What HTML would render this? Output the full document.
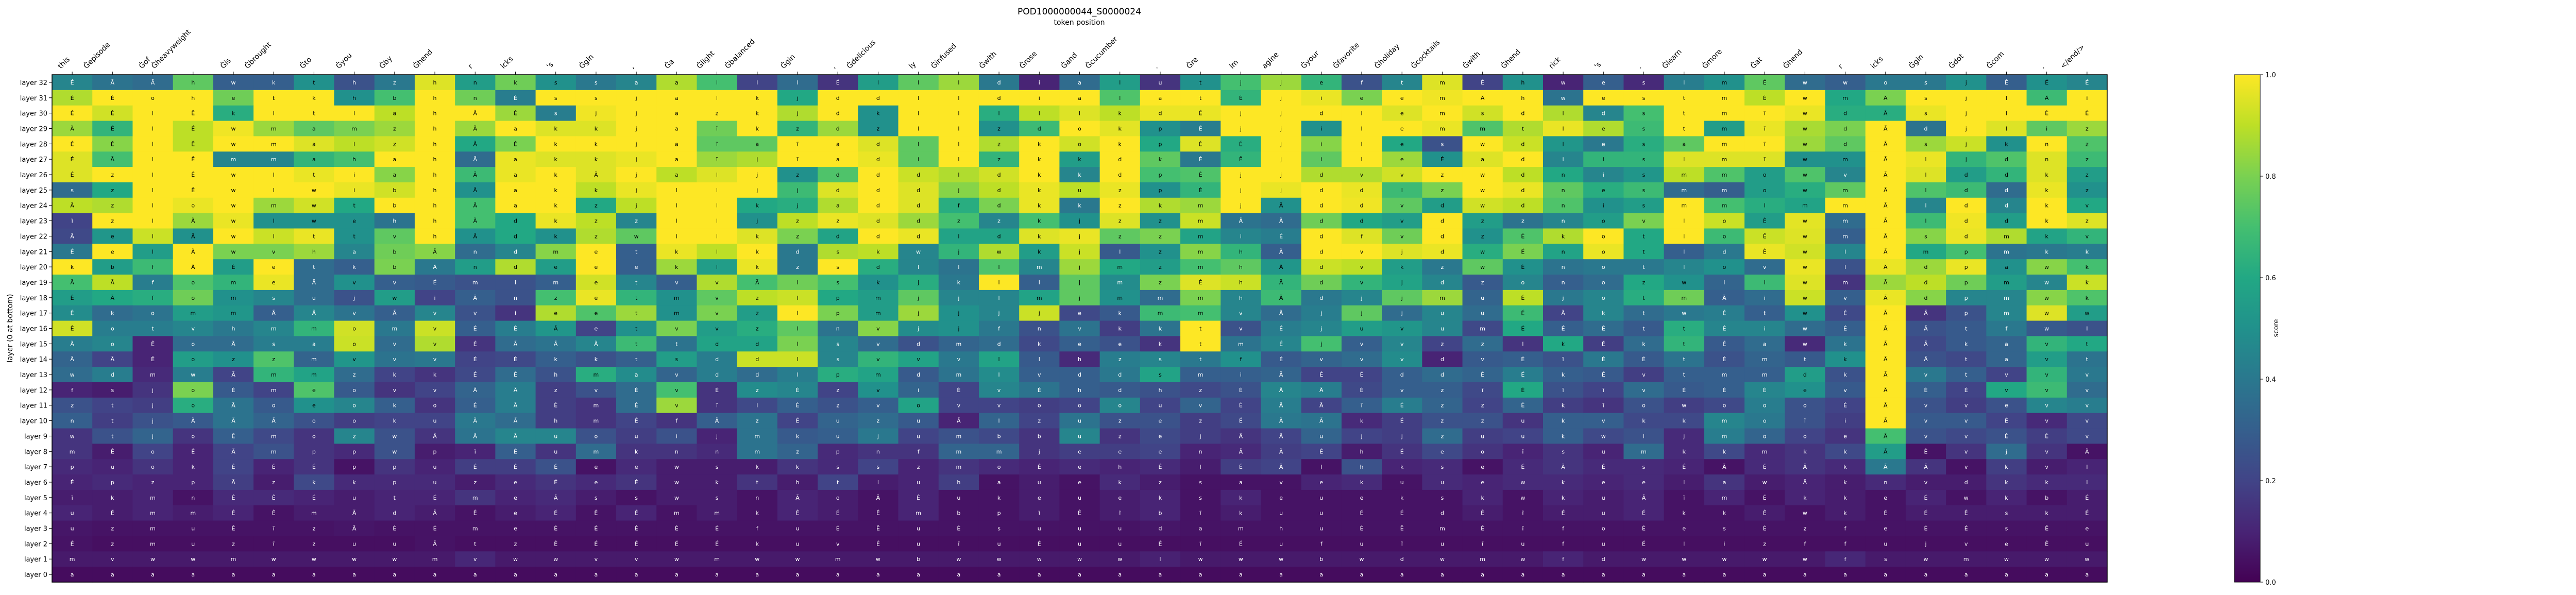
<!DOCTYPE html>
<html><head><meta charset="utf-8"><title>POD1000000044_S0000024</title>
<style>
html,body{margin:0;padding:0;background:#fff;}
svg{display:block;font-family:"DejaVu Sans","Liberation Sans",sans-serif;}
</style></head>
<body>
<svg id="chart" width="5100" height="1155" viewBox="0 0 5100 1155" xmlns="http://www.w3.org/2000/svg">
<defs>
<linearGradient id="vir" x1="0" y1="1" x2="0" y2="0">
<stop offset="0" stop-color="#440154"/><stop offset="0.1" stop-color="#482475"/><stop offset="0.2" stop-color="#414487"/><stop offset="0.3" stop-color="#355f8d"/><stop offset="0.4" stop-color="#2a788e"/><stop offset="0.5" stop-color="#21918c"/><stop offset="0.6" stop-color="#22a884"/><stop offset="0.7" stop-color="#44bf70"/><stop offset="0.8" stop-color="#7ad151"/><stop offset="0.9" stop-color="#bddf26"/><stop offset="1" stop-color="#fde725"/>
</linearGradient>
</defs>
<text x="2095" y="28" font-size="17" text-anchor="middle">POD1000000044_S0000024</text>
<text x="2095" y="48" font-size="14" text-anchor="middle">token position</text>
<text transform="translate(24,637) rotate(-90)" font-size="14" text-anchor="middle">layer (0 at bottom)</text>
<g id="cells"></g>
<g id="xticks"></g>
<g id="yticks"></g>
<rect x="101" y="145" width="3989" height="985" fill="none" stroke="#000" stroke-width="1.5"/>
<rect x="4337" y="145" width="50" height="985" fill="url(#vir)" stroke="#000" stroke-width="1"/>
<g id="cbticks"></g>
<text transform="translate(4422,637) rotate(-90)" font-size="13" text-anchor="middle">score</text>
</svg>
<script>
const tokens = ["this","Ġepisode","Ġof","Ġheavyweight","Ġis","Ġbrought","Ġto","Ġyou","Ġby","Ġhend","r","icks","'s","Ġgin",",","Ġa","Ġlight","Ġbalanced","Ġgin",",","Ġdelicious","ly","Ġinfused","Ġwith","Ġrose","Ġand","Ġcucumber",".","Ġre","im","agine","Ġyour","Ġfavorite","Ġholiday","Ġcocktails","Ġwith","Ġhend","rick","'s",".","Ġlearn","Ġmore","Ġat","Ġhend","r","icks","Ġgin","Ġdot","Ġcom",".","</end/>"];
const layerLabels = ["layer 32","layer 31","layer 30","layer 29","layer 28","layer 27","layer 26","layer 25","layer 24","layer 23","layer 22","layer 21","layer 20","layer 19","layer 18","layer 17","layer 16","layer 15","layer 14","layer 13","layer 12","layer 11","layer 10","layer 9","layer 8","layer 7","layer 6","layer 5","layer 4","layer 3","layer 2","layer 1","layer 0"];
const colorbarTicks = [0.0,0.2,0.4,0.6,0.8,1.0];
// scores, top row = layer 32 ... bottom row = layer 0
const scores = [
[0.45,0.38,0.35,0.75,0.3,0.3,0.5,0.25,0.4,0.95,0.55,0.78,0.5,0.4,0.45,0.88,0.7, 0.2,0.35,0.15,0.55,0.75,0.85,0.4,0.1,0.35,0.55,0.15,0.5,0.7,0.85,0.65,0.25,0.45, 0.95,0.2,0.5,0.1,0.3,0.12,0.42,0.5,0.75,0.35,0.3,0.4,0.4,0.5,0.3,0.5,0.45],
[0.88,1.0,1.0,1.0,0.78,1.0,1.0,0.5,0.7,1.0,0.78,0.42,1.0,1.0,1.0,1.0,1.0, 1.0,0.6,1.0,1.0,1.0,1.0,1.0,1.0,1.0,0.72,1.0,1.0,0.65,1.0,0.97,0.8,1.0, 0.98,1.0,1.0,0.38,1.0,1.0,1.0,1.0,0.9,1.0,0.6,0.8,1.0,1.0,1.0,0.68,1.0],
[1.0,0.93,1.0,1.0,0.62,1.0,1.0,1.0,0.9,1.0,1.0,0.85,0.42,0.98,1.0,1.0,1.0, 1.0,0.88,1.0,0.5,1.0,1.0,0.62,0.9,0.95,0.9,0.97,0.97,1.0,1.0,1.0,1.0,0.95, 1.0,0.93,1.0,0.88,0.45,0.7,1.0,1.0,1.0,0.97,0.62,0.62,0.97,1.0,1.0,1.0,1.0],
[0.85,0.65,1.0,0.9,0.98,0.85,0.75,0.8,0.85,1.0,0.85,1.0,0.95,0.95,1.0,1.0,0.78, 1.0,0.65,0.85,0.5,1.0,1.0,0.5,0.68,1.0,0.96,0.5,0.42,1.0,1.0,0.5,1.0,1.0, 0.97,0.72,0.88,0.97,0.88,0.68,1.0,0.55,0.97,0.87,0.8,1.0,0.38,1.0,0.95,0.75,0.85],
[1.0,0.82,1.0,0.9,1.0,1.0,0.95,0.9,0.93,1.0,0.6,0.8,1.0,1.0,1.0,1.0,0.75, 0.75,1.0,1.0,0.95,0.75,1.0,0.88,1.0,0.93,1.0,0.6,0.95,0.62,1.0,0.82,1.0,0.6, 0.25,1.0,0.92,0.52,0.4,0.62,0.75,1.0,1.0,0.85,0.75,1.0,0.85,0.92,0.5,1.0,0.72],
[0.95,0.7,1.0,1.0,0.45,0.45,0.65,0.7,1.0,1.0,0.35,0.97,0.95,0.95,0.97,1.0,0.85, 0.88,1.0,1.0,0.97,0.75,1.0,0.65,1.0,0.55,1.0,0.75,0.4,0.65,1.0,0.75,1.0,0.85, 0.5,0.95,1.0,0.45,0.65,0.65,0.95,0.95,0.95,0.5,0.5,1.0,0.97,0.65,0.72,0.95,0.68],
[0.95,1.0,1.0,1.0,1.0,1.0,0.97,1.0,0.82,1.0,0.68,0.97,1.0,0.95,1.0,0.9,0.95, 1.0,0.5,0.72,1.0,0.92,0.88,0.93,1.0,0.45,1.0,0.7,0.72,1.0,1.0,0.88,0.88,0.93, 1.0,1.0,0.9,0.6,0.45,0.52,0.9,0.72,0.55,0.72,0.45,1.0,0.95,0.55,0.65,0.95,0.55],
[0.35,0.6,1.0,1.0,1.0,1.0,1.0,0.97,0.93,1.0,0.5,1.0,1.0,0.9,0.97,1.0,1.0, 1.0,0.68,0.95,1.0,0.95,0.82,0.9,0.97,0.9,0.97,0.5,0.65,1.0,0.97,1.0,0.97,0.68, 0.8,1.0,0.97,0.75,0.62,0.68,0.35,0.3,0.55,0.62,0.75,1.0,0.72,0.68,0.35,0.97,0.5],
[0.9,0.88,1.0,0.97,1.0,0.85,0.93,0.6,1.0,1.0,0.7,1.0,1.0,0.6,0.9,1.0,1.0, 0.6,0.62,0.88,1.0,0.95,0.62,0.8,0.97,0.4,1.0,0.88,0.85,1.0,0.5,1.0,0.98,0.75, 0.55,0.93,0.9,0.72,0.5,0.55,1.0,0.7,0.62,0.58,1.0,1.0,0.45,1.0,0.45,1.0,0.6],
[0.2,1.0,1.0,0.85,0.97,0.5,0.5,0.5,0.38,1.0,0.7,0.6,0.97,0.9,0.45,1.0,1.0, 0.5,0.9,0.97,0.95,0.85,0.7,0.45,0.7,0.5,0.95,0.5,0.92,0.38,0.35,0.78,0.6,0.55, 1.0,0.55,0.38,0.45,0.55,0.8,1.0,0.92,0.55,0.96,0.35,1.0,0.68,0.98,0.55,1.0,0.95],
[0.22,0.52,0.92,0.5,1.0,0.92,0.97,0.5,0.75,1.0,0.5,0.6,0.5,0.88,0.75,1.0,1.0, 0.95,0.8,0.58,1.0,0.97,0.58,0.58,0.95,0.97,0.75,0.8,0.58,0.45,0.42,1.0,0.95,0.78, 1.0,0.5,0.72,0.88,1.0,0.6,1.0,0.68,0.92,0.95,0.3,1.0,0.82,0.97,0.88,0.58,0.65],
[0.4,1.0,0.55,1.0,0.8,0.8,0.85,0.45,0.78,0.82,0.35,0.45,0.82,1.0,0.3,0.97,0.9, 1.0,0.4,0.88,0.9,0.45,0.65,0.88,0.55,0.92,0.28,0.5,0.82,0.65,0.3,1.0,1.0,0.95, 0.97,0.62,0.8,0.58,0.97,0.6,0.3,0.4,0.97,0.93,0.45,1.0,0.6,0.7,0.38,0.4,0.42],
[1.0,0.55,0.68,1.0,0.55,1.0,0.35,0.3,0.8,0.4,0.55,0.88,0.55,1.0,0.3,0.85,0.55, 0.97,0.4,1.0,0.62,0.45,0.38,0.72,0.45,0.85,0.6,0.55,0.7,0.75,0.52,0.92,0.9,0.55, 0.4,0.75,0.5,0.38,0.4,0.4,0.45,0.5,0.35,0.97,0.25,0.97,0.85,0.97,0.5,0.82,0.7],
[0.7,0.9,0.42,0.72,0.65,0.97,0.35,0.5,0.3,0.28,0.25,0.25,0.3,0.93,0.45,0.3,0.88, 0.7,0.78,0.7,0.5,0.62,0.4,1.0,0.3,0.75,0.48,0.8,0.95,0.92,0.65,0.78,0.65,0.58, 0.45,0.28,0.45,0.3,0.35,0.6,0.5,0.32,0.68,0.95,0.15,0.85,0.9,0.78,0.55,0.45,0.92],
[0.55,0.6,0.62,0.78,0.5,0.45,0.35,0.25,0.55,0.2,0.3,0.25,0.7,0.97,0.65,0.5,0.75, 0.9,0.92,0.6,0.55,0.75,0.45,0.45,0.58,0.75,0.5,0.35,0.8,0.45,0.68,0.4,0.45,0.75, 0.85,0.32,0.9,0.4,0.45,0.62,0.78,0.3,0.35,0.92,0.3,0.97,0.82,0.45,0.45,0.82,0.72],
[0.48,0.35,0.38,0.55,0.52,0.3,0.45,0.38,0.3,0.45,0.25,0.15,0.88,0.72,0.85,0.5,0.8, 0.55,1.0,0.8,0.55,0.85,0.5,0.45,0.92,0.22,0.28,0.68,0.7,0.45,0.35,0.42,0.75,0.35, 0.45,0.35,0.68,0.2,0.45,0.35,0.4,0.42,0.3,0.5,0.22,1.0,0.15,0.25,0.45,0.95,0.55],
[0.93,0.42,0.42,0.45,0.4,0.45,0.65,0.93,0.4,0.92,0.3,0.42,0.52,0.2,0.5,0.8,0.55, 0.62,0.75,0.38,0.82,0.48,0.5,0.4,0.25,0.38,0.18,0.38,1.0,0.25,0.42,0.45,0.55,0.52, 0.45,0.22,0.6,0.3,0.35,0.28,0.62,0.45,0.45,0.35,0.3,1.0,0.25,0.28,0.4,0.28,0.25],
[0.42,0.45,0.1,0.35,0.35,0.42,0.42,0.92,0.35,0.88,0.15,0.35,0.38,0.45,0.68,0.38,0.58, 0.58,0.8,0.45,0.35,0.25,0.32,0.35,0.22,0.3,0.25,0.15,1.0,0.38,0.45,0.7,0.3,0.45, 0.2,0.35,0.15,0.6,0.18,0.35,0.65,0.28,0.35,0.12,0.38,1.0,0.22,0.28,0.32,0.65,0.6],
[0.32,0.2,0.1,0.55,0.5,0.72,0.32,0.52,0.38,0.4,0.2,0.22,0.3,0.25,0.3,0.55,0.42, 0.92,0.92,0.45,0.65,0.58,0.4,0.58,0.28,0.12,0.42,0.45,0.4,0.5,0.28,0.32,0.35,0.48, 0.1,0.28,0.3,0.25,0.4,0.28,0.38,0.25,0.32,0.28,0.5,1.0,0.25,0.22,0.32,0.55,0.38],
[0.35,0.42,0.12,0.42,0.2,0.65,0.58,0.35,0.2,0.15,0.22,0.35,0.25,0.62,0.48,0.32,0.42, 0.35,0.42,0.62,0.58,0.28,0.38,0.48,0.3,0.3,0.4,0.58,0.3,0.3,0.32,0.2,0.2,0.3, 0.35,0.32,0.42,0.3,0.28,0.18,0.3,0.3,0.3,0.55,0.25,1.0,0.4,0.3,0.2,0.65,0.4],
[0.1,0.08,0.15,0.8,0.28,0.2,0.72,0.28,0.15,0.2,0.32,0.42,0.18,0.25,0.35,0.7,0.15, 0.48,0.45,0.2,0.5,0.32,0.2,0.45,0.38,0.3,0.28,0.25,0.22,0.25,0.45,0.42,0.22,0.3, 0.3,0.22,0.6,0.25,0.2,0.35,0.28,0.3,0.45,0.5,0.28,1.0,0.3,0.2,0.6,0.68,0.35],
[0.25,0.2,0.18,0.62,0.38,0.28,0.5,0.45,0.3,0.15,0.3,0.42,0.18,0.15,0.35,0.85,0.15, 0.22,0.3,0.25,0.3,0.58,0.2,0.2,0.18,0.2,0.45,0.2,0.32,0.2,0.42,0.2,0.3,0.42, 0.32,0.2,0.32,0.18,0.15,0.25,0.18,0.22,0.42,0.25,0.2,1.0,0.25,0.18,0.25,0.45,0.42],
[0.3,0.18,0.25,0.28,0.38,0.32,0.25,0.18,0.2,0.2,0.4,0.35,0.18,0.15,0.2,0.15,0.3, 0.38,0.2,0.32,0.35,0.28,0.1,0.32,0.2,0.38,0.25,0.25,0.18,0.22,0.4,0.38,0.12,0.18, 0.25,0.25,0.15,0.3,0.3,0.22,0.22,0.45,0.4,0.25,0.18,1.0,0.28,0.28,0.2,0.12,0.22],
[0.15,0.25,0.32,0.15,0.3,0.22,0.15,0.45,0.25,0.15,0.38,0.45,0.45,0.25,0.18,0.25,0.1, 0.38,0.28,0.3,0.4,0.2,0.25,0.22,0.15,0.45,0.15,0.22,0.18,0.15,0.2,0.32,0.2,0.18, 0.35,0.18,0.2,0.3,0.22,0.25,0.12,0.42,0.32,0.2,0.15,0.7,0.25,0.22,0.25,0.18,0.22],
[0.15,0.08,0.2,0.1,0.2,0.25,0.15,0.12,0.25,0.08,0.1,0.3,0.15,0.35,0.15,0.15,0.12, 0.38,0.32,0.12,0.15,0.15,0.32,0.32,0.15,0.18,0.18,0.2,0.1,0.12,0.18,0.2,0.08,0.15, 0.22,0.15,0.1,0.15,0.1,0.35,0.12,0.22,0.12,0.15,0.22,0.55,0.05,0.15,0.35,0.15,0.05],
[0.12,0.1,0.15,0.1,0.2,0.1,0.15,0.05,0.15,0.1,0.18,0.18,0.25,0.05,0.12,0.08,0.08, 0.08,0.15,0.12,0.2,0.1,0.15,0.12,0.1,0.12,0.1,0.12,0.08,0.18,0.2,0.05,0.25,0.1, 0.12,0.05,0.12,0.15,0.12,0.12,0.1,0.05,0.12,0.15,0.12,0.4,0.15,0.05,0.18,0.08,0.1],
[0.1,0.12,0.1,0.1,0.18,0.08,0.22,0.12,0.12,0.12,0.08,0.12,0.15,0.12,0.15,0.08,0.08, 0.15,0.08,0.2,0.08,0.1,0.18,0.05,0.08,0.05,0.12,0.08,0.05,0.05,0.05,0.1,0.12,0.05, 0.12,0.1,0.12,0.12,0.1,0.12,0.08,0.15,0.08,0.1,0.08,0.12,0.08,0.08,0.15,0.12,0.12],
[0.08,0.08,0.1,0.05,0.12,0.12,0.1,0.08,0.1,0.1,0.15,0.1,0.12,0.08,0.05,0.08,0.08, 0.05,0.1,0.08,0.05,0.1,0.05,0.05,0.08,0.05,0.08,0.1,0.05,0.1,0.05,0.05,0.05,0.05, 0.05,0.1,0.05,0.1,0.08,0.1,0.05,0.1,0.05,0.1,0.08,0.05,0.1,0.05,0.1,0.05,0.08],
[0.1,0.08,0.1,0.08,0.1,0.05,0.08,0.08,0.1,0.08,0.05,0.08,0.1,0.05,0.1,0.05,0.08, 0.05,0.1,0.08,0.05,0.1,0.05,0.05,0.08,0.05,0.08,0.1,0.05,0.08,0.05,0.05,0.05,0.05, 0.05,0.08,0.05,0.08,0.08,0.1,0.05,0.05,0.08,0.05,0.08,0.05,0.08,0.08,0.08,0.08,0.08],
[0.06,0.05,0.05,0.05,0.05,0.05,0.05,0.06,0.05,0.05,0.05,0.05,0.05,0.05,0.05,0.05,0.05, 0.05,0.05,0.05,0.05,0.05,0.05,0.05,0.05,0.05,0.05,0.06,0.05,0.05,0.05,0.05,0.05,0.05, 0.05,0.05,0.05,0.05,0.05,0.05,0.05,0.05,0.05,0.05,0.05,0.05,0.05,0.05,0.05,0.05,0.05],
[0.05,0.04,0.04,0.04,0.04,0.04,0.04,0.04,0.04,0.05,0.04,0.04,0.04,0.04,0.04,0.04,0.04, 0.04,0.04,0.04,0.04,0.04,0.04,0.04,0.04,0.04,0.04,0.04,0.04,0.04,0.04,0.04,0.04,0.04, 0.04,0.04,0.04,0.04,0.04,0.04,0.04,0.04,0.04,0.04,0.04,0.04,0.04,0.04,0.04,0.04,0.04],
[0.07,0.07,0.07,0.07,0.07,0.07,0.07,0.07,0.07,0.07,0.11,0.07,0.07,0.07,0.07,0.07,0.07, 0.07,0.07,0.07,0.07,0.07,0.07,0.07,0.07,0.07,0.07,0.09,0.07,0.07,0.07,0.07,0.07,0.07, 0.07,0.07,0.07,0.1,0.07,0.07,0.07,0.07,0.07,0.07,0.11,0.07,0.07,0.07,0.07,0.07,0.07],
[0.03,0.03,0.03,0.03,0.03,0.03,0.03,0.03,0.03,0.03,0.03,0.03,0.03,0.03,0.03,0.03,0.03, 0.03,0.03,0.03,0.03,0.03,0.03,0.03,0.03,0.03,0.03,0.03,0.03,0.03,0.03,0.03,0.03,0.03, 0.03,0.03,0.03,0.03,0.03,0.03,0.03,0.03,0.03,0.03,0.03,0.03,0.03,0.03,0.03,0.03,0.03]
];
const cellText = [
"É Ã Ã h w k t h z h n k s s a a l l l É l l l d i a l u t j j e f t m É h w e s l m É w w o s j Ê É É",
"É É o h e t k h b h n É s s j a l k j d d l l d i a l a t É j i e e m Ã h w e s t m É w m Ã s j l Ã ĩ",
"É É l Ê k l t l a h Ã É s j j a z k j d k l l l l l k d Ê j j d l e m s d l d s t m ĩ w d Ã s j l É É",
"Ã É l É w m a m z h Ã a k k j a ĩ k z d z l l z d o k p É j j i l e m m t l e s t m ĩ w d Ã d j l i z",
"É É l Ê w m a l z h Ã É k k j a ĩ a ĩ a d l l z k o k p É É j i l e s w d l e s a m ĩ w d Ã s j k n z",
"É Ã l Ê m m a h a h Ã a k k j a ĩ j ĩ a d i l z k k d k É Ê j i l e É a d i i s l m ĩ w m Ã l j d n z",
"É z l Ê w l t i a h Ã a k Ã j a l j z d d d l d k k d p É j j d v v z w d n i s m m o w v Ã l d d k z",
"s z l Ê w l w i b h Ã a k k j l l j j d d d j d k u z p É j j d d l z w d n e s m m o w m Ã l d d k z",
"Ã z l o w m w t b h Ã a k z j l l k j a d d f d k k z k m j Ã d d v d w d n i s m m l m m Ã l d d k v",
"ĩ z l Ã w l w e h h Ã d k z z l l j z z d d z z k j z z m Ã Ã d d v d z z n o v l o Ê w m Ã l d d k z",
"Ã e l Ã w l t t v h Ã d k z w l l k z d d d l d k j z z m i É d f v d z É k o t l o Ê w m Ã s d m k v",
"É e l Ã w v h a b Ã n d m e t k l k d s k w j w k j l z m h Ã d v j d w É n o t l d Ê w l Ã m p m k k",
"k b f Ã É e t k b Ã n d e e e k l k z s d l l l m j m z m h Ã d v k z w É n o t l o v w l Ã d p a w k",
"Ã Ã f o m e Ã v v É m i m e t v v Ã l s k j k l l j m z É h Ã d v j d z o n o z w i i w m Ã d p m w k",
"Ê Ã f o m s u j w i Ã n z e t m v z l p m j j l m j m m m h Ã d j j m u É j o t m Ã i w v Ã d p m w k",
"Ê k o m m Ã Ã v Ã v v i e e t m v z l p m j j j j e k m m v Ã j j j u u É Ã k t w É t w É Ã Ã p m w w",
"Ê o t v h m m o m v É É Ã e t v v z l n v j j f n v k k t v É j u v u m É É É t t É i w É Ã Ã t f w l",
"Ã o Ê o Ã s a o v v É Ã Ã Ã t t d d l s v d m d k e e k t m É j v v z z l k É k t É a w k Ã Ã k a v t",
"Ã Ã Ê o z z m v v v É É k k t s d d l s v v v l l h z s t f É v v v d v É ĩ É É t É m t k Ã Ã t a v t",
"w d m w Ã m m z k k É É h m a v d d l p m d m l v d d s m i Ã É É d d É É k É v t m m d k Ã v t v v v",
"f s j o É m e o v v Ã Ã z v É v É z É z v i É v É h d h z É Ã Ã É v z ĩ É ĩ ĩ v É É É e v Ã É É v v v",
"z t j o Ã o e o k o É Ã É m É v ĩ l É z v o v v o o o u v É Ã Ã ĩ É z z É k ĩ o w o o o É Ã v v e v v",
"n t j Ã Ã Ã o o k u Ã Ã h m É f Ã z É u z u Ã l z u z e z É Ã Ã k É z z u k v k k m o ĩ i Ã v v É v v",
"w t j o Ê m o z w Ã Ã Ã u o u i j m k u j u m b b u z e j Ã Ã u j j z u u k w l j m o o e Ã v v É É v",
"m Ê o Ê Ã m p p w p ĩ É u m k n n m z p n f m m j e e e n Ã Ã É h É e o ĩ s u m k k m k k Ã Ê v j v Ã",
"p u o k É É É p p u É É É e e w s k k s s z m o É e h É l É Ã l h k s e É Ã É s É Ã É Ã k Ã Ã v k v l",
"É p z p Ã z k k p u z e É e É w k t h t l u h a u e k z s a v e k u u e w k e e l a w Ã k n v d k k l",
"ĩ k m n Ê Ê É u t É m e Ã s s w s n Ã o Ã Ê u k e u e k s k e u e k s k w k u Ã ĩ m É k k e É w k b É",
"u É m m Ê Ê m Ã d Ã Ê e É Ê É m m k Ê É Ê m b p ĩ Ê ĩ b ĩ k u u É É d Ê ĩ É u É k k Ê w k É É Ê s k É",
"u z m u Ê ĩ z Ã É É m e É É É É É f u É Ê u É s u u u d a m h u É Ê m Ê ĩ f o É e s É z f e É É s Ê e",
"É z m u z ĩ z u u Ã t z Ê É É É É k u v É u ĩ u É u u É ĩ É u f u ĩ u ĩ u f u É l i z f f u j v e Ê u",
"m v w w m w w w w m v w w v v w m w w m w b w w w w w l w w w b w d w m w f d w w w w w f s w m w w w",
"a a a a a a a a a a a a a a a a a a a a a a a a a a a a a a a a a a a a a a a a a a a a a a a a a a a"
];

const NS = "http://www.w3.org/2000/svg";
const X0 = 101, X1 = 4090, Y0 = 145, Y1 = 1130;
const nCols = tokens.length, nRows = layerLabels.length;
const cw = (X1 - X0) / nCols, ch = (Y1 - Y0) / nRows;
const xPos = i => X0 + i * cw;
const yPos = r => Y0 + r * ch;
const vStops = ["#440154","#482475","#414487","#355f8d","#2a788e","#21918c","#22a884","#44bf70","#7ad151","#bddf26","#fde725"];
function hex2rgb(h){return [parseInt(h.slice(1,3),16),parseInt(h.slice(3,5),16),parseInt(h.slice(5,7),16)];}
function viridis(v){
  v = Math.max(0, Math.min(1, v));
  const t = v * 10, i = Math.min(9, Math.floor(t)), f = t - i;
  const a = hex2rgb(vStops[i]), b = hex2rgb(vStops[i+1]);
  return "rgb(" + a.map((c,k)=>Math.round(c + (b[k]-c)*f)).join(",") + ")";
}
function mk(tag, attrs){const e=document.createElementNS(NS,tag);for(const k in attrs)e.setAttribute(k,attrs[k]);return e;}

const gCells = document.getElementById("cells");
for (let r = 0; r < nRows; r++) {
  const texts = cellText[r].split(" ");
  for (let c = 0; c < nCols; c++) {
    const v = scores[r][c];
    const rect = mk("rect", {x: xPos(c).toFixed(2), y: yPos(r).toFixed(2), width: (cw+0.6).toFixed(2), height: (ch+0.6).toFixed(2), fill: viridis(v)});
    
    
    gCells.appendChild(rect);
    const t = mk("text", {x: (xPos(c)+cw/2).toFixed(2), y: (yPos(r)+ch/2+4).toFixed(2), "font-size": "11", "text-anchor": "middle", fill: v < 0.5 ? "#fff" : "#000"});
    
    
    t.textContent = texts[c] || "";
    gCells.appendChild(t);
  }
}

const gX = document.getElementById("xticks");
for (let c = 0; c < nCols; c++) {
  const tx = xPos(c) + cw/2;
  const tick = mk("line", {x1: tx, y1: Y0, x2: tx, y2: Y0-6, stroke: "#000", "stroke-width": 1});
  
  
  gX.appendChild(tick);
  const t = mk("text", {"font-size": "14", "text-anchor": "start"});
  
  
  t.textContent = tokens[c];
  gX.appendChild(t);
  const L = t.getComputedTextLength();
  const c45 = Math.SQRT1_2;
  const sx = tx - L*c45 - 4, sy = 134;
  t.setAttribute("transform", "translate(" + sx.toFixed(2) + "," + sy + ") rotate(-45)");
}

const gY = document.getElementById("yticks");
for (let r = 0; r < nRows; r++) {
  const ty = yPos(r) + ch/2;
  const tick = mk("line", {x1: X0, y1: ty, x2: X0-6, y2: ty, stroke: "#000", "stroke-width": 1});
  
  
  gY.appendChild(tick);
  const t = mk("text", {x: X0-9, y: ty+5, "font-size": "13", "text-anchor": "end"});
  
  
  t.textContent = layerLabels[r];
  gY.appendChild(t);
}

const gC = document.getElementById("cbticks");
for (const v of colorbarTicks) {
  const ty = Y1 - v * (Y1 - Y0);
  const tick = mk("line", {x1: 4387, y1: ty, x2: 4393, y2: ty, stroke: "#000", "stroke-width": 1});
  
  
  gC.appendChild(tick);
  const t = mk("text", {x: 4397, y: ty+5, "font-size": "13"});
  
  
  t.textContent = v.toFixed(1);
  gC.appendChild(t);
}
</script>
</body></html>
